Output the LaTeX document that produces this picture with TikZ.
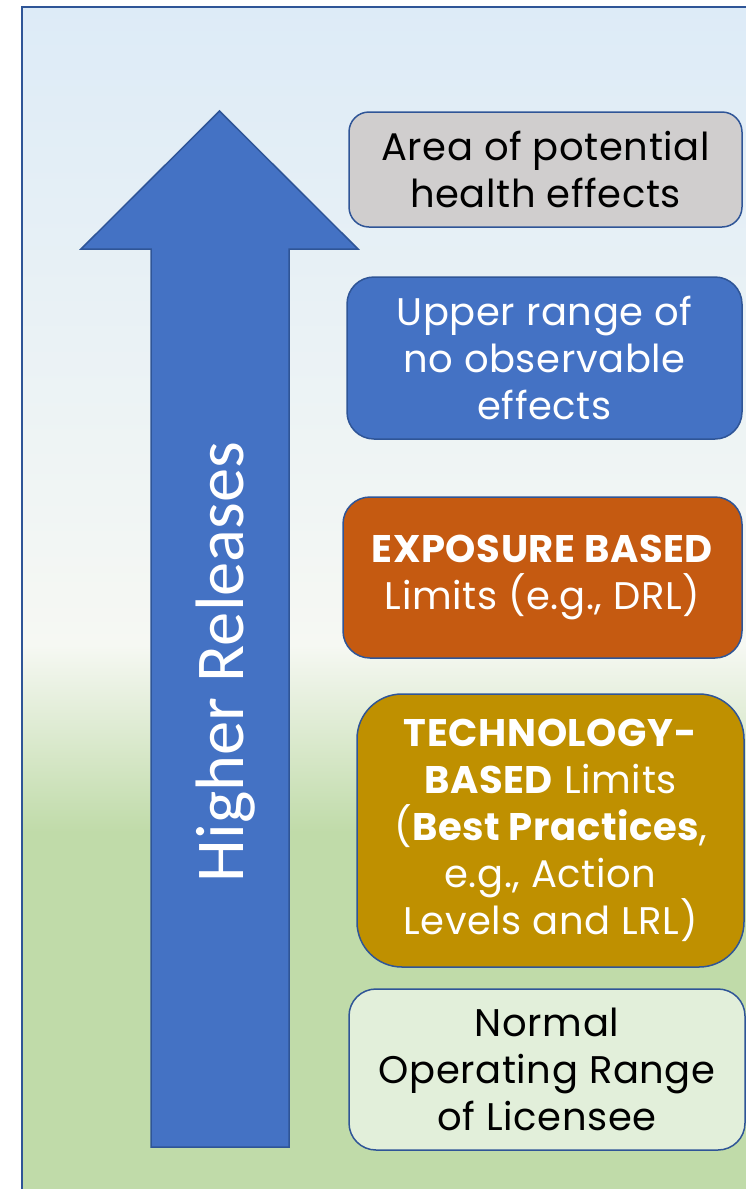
\documentclass[tikz,border=0pt]{standalone}
\usepackage{fontspec}
\setmainfont{Poppins}[LetterSpace=1.6]
\newfontfamily\carlito{Carlito}
\definecolor{bgtop}{HTML}{DDEBF7}
\definecolor{bgmid}{HTML}{F6F8F3}
\definecolor{bgbot}{HTML}{C0DBA9}
\definecolor{edgec}{HTML}{2F5597}
\definecolor{arrowc}{HTML}{4472C4}
\definecolor{grayc}{HTML}{D0CECE}
\definecolor{orangec}{HTML}{C55A11}
\definecolor{goldc}{HTML}{BF9000}
\definecolor{lgreenc}{HTML}{E2EFDA}
\tikzset{
  boxstyle/.style={draw=edgec, line width=1.5pt, inner sep=0pt, align=center,
    font=\fontsize{38.5}{47}\selectfont},
}
\begin{document}
\begin{tikzpicture}[x=1pt,y=-1pt]
\useasboundingbox (0,0) rectangle (746,1189);
% background gradient
\shade[top color=bgtop, bottom color=bgmid] (21,6) rectangle (746,646);
\shade[top color=bgmid, bottom color=bgbot] (21,645) rectangle (746,832);
\fill[bgbot] (21,831) rectangle (746,1189);
% frame
\draw[edgec, line width=2pt] (21.5,1189) -- (21.5,6.5) -- (746,6.5);
% arrow
\coordinate (tip) at (219.5,111);
\coordinate (hl) at (81,249);
\coordinate (hr) at (358,249);
\coordinate (sl) at (151,249);
\coordinate (sr) at (289,249);
\coordinate (bl) at (151,1147);
\coordinate (br) at (289,1147);
\draw[edgec, fill=arrowc, line width=1.5pt, line join=miter]
  (tip) -- (hr) -- (sr) -- (br) -- (bl) -- (sl) -- (hl) -- cycle;
\node[rotate=90, anchor=base, text=white, font=\carlito\fontsize{68.5}{80}\selectfont]
  (lbl) at (243,662) {Higher Releases};
% boxes
\node[boxstyle, fill=grayc, rounded corners=20pt, minimum width=393pt, minimum height=115pt]
  (b1) at (545.5,169.5) {Area of potential\\health effects};
\node[boxstyle, fill=arrowc, text=white, rounded corners=27pt, minimum width=395pt, minimum height=162pt]
  (b2) at (544.5,358) {Upper range of\\no observable\\effects};
\node[boxstyle, fill=orangec, text=white, rounded corners=27pt, minimum width=399pt, minimum height=161pt]
  (b3) at (542.5,577.5) {\textbf{EXPOSURE BASED}\\Limits (e.g., DRL)};
\node[boxstyle, fill=goldc, text=white, rounded corners=45pt, minimum width=387pt, minimum height=273pt]
  (b4) at (550.5,830.5) {\textbf{TECHNOLOGY-}\\\textbf{BASED} Limits\\(\textbf{Best Practices},\\e.g., Action\\Levels and LRL)};
\node[boxstyle, fill=lgreenc, rounded corners=27pt, minimum width=396pt, minimum height=161pt]
  (b5) at (547,1069.5) {Normal\\Operating Range\\of Licensee};
\end{tikzpicture}
\end{document}
